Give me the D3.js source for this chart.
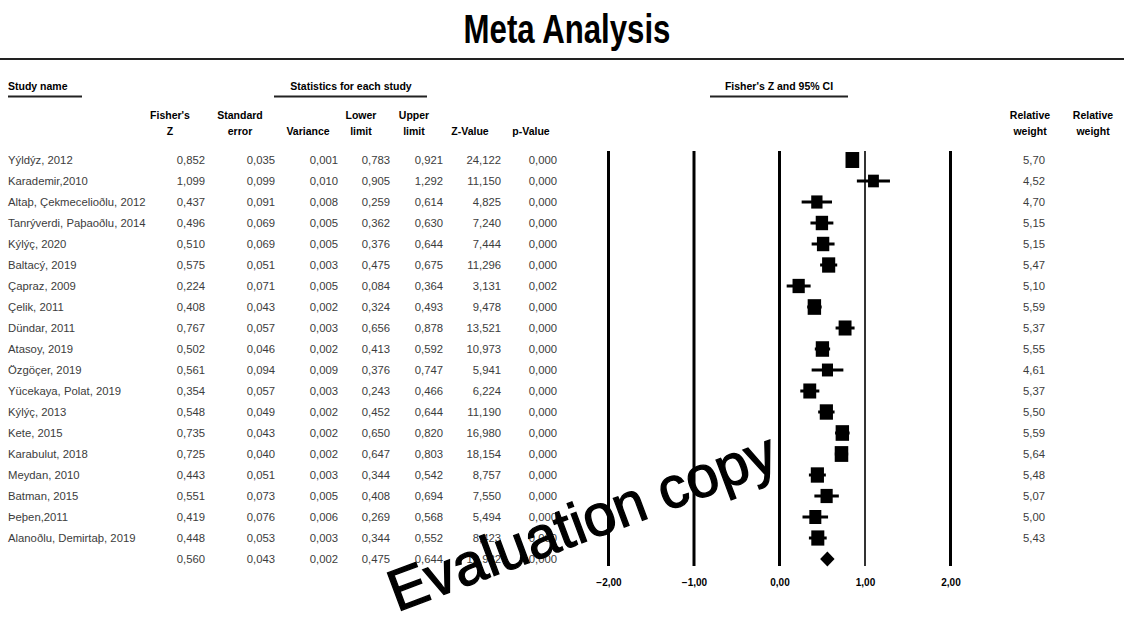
<!DOCTYPE html>
<html>
<head>
<meta charset="utf-8">
<script src="https://cdn.jsdelivr.net/npm/d3@7"></script>
<style>
  body { margin: 0; background: #fff; }
  svg { display: block; font-family: "Liberation Sans", Arial, sans-serif; }
</style>
</head>
<body>
<div id="chart"></div>
<script>
let width = 1124;
let height = 617;

// study data
const studies = [
  "Yýldýz, 2012", "Karademir,2010", "Altaþ, Çekmecelioðlu, 2012", "Tanrýverdi, Paþaoðlu, 2014",
  "Kýlýç, 2020", "Baltacý, 2019", "Çapraz, 2009", "Çelik, 2011", "Dündar, 2011", "Atasoy, 2019",
  "Özgöçer, 2019", "Yücekaya, Polat, 2019", "Kýlýç, 2013", "Kete, 2015", "Karabulut, 2018",
  "Meydan, 2010", "Batman, 2015", "Þeþen,2011", "Alanoðlu, Demirtaþ, 2019"
];
const fisherZ = [0.852, 1.099, 0.437, 0.496, 0.510, 0.575, 0.224, 0.408, 0.767, 0.502, 0.561, 0.354, 0.548, 0.735, 0.725, 0.443, 0.551, 0.419, 0.448];
const stdError = [0.035, 0.099, 0.091, 0.069, 0.069, 0.051, 0.071, 0.043, 0.057, 0.046, 0.094, 0.057, 0.049, 0.043, 0.040, 0.051, 0.073, 0.076, 0.053];
const variance = [0.001, 0.010, 0.008, 0.005, 0.005, 0.003, 0.005, 0.002, 0.003, 0.002, 0.009, 0.003, 0.002, 0.002, 0.002, 0.003, 0.005, 0.006, 0.003];
const lowerLimit = [0.783, 0.905, 0.259, 0.362, 0.376, 0.475, 0.084, 0.324, 0.656, 0.413, 0.376, 0.243, 0.452, 0.650, 0.647, 0.344, 0.408, 0.269, 0.344];
const upperLimit = [0.921, 1.292, 0.614, 0.630, 0.644, 0.675, 0.364, 0.493, 0.878, 0.592, 0.747, 0.466, 0.644, 0.820, 0.803, 0.542, 0.694, 0.568, 0.552];
const zValue = [24.122, 11.150, 4.825, 7.240, 7.444, 11.296, 3.131, 9.478, 13.521, 10.973, 5.941, 6.224, 11.190, 16.980, 18.154, 8.757, 7.550, 5.494, 8.423];
const pValue = [0.000, 0.000, 0.000, 0.000, 0.000, 0.000, 0.002, 0.000, 0.000, 0.000, 0.000, 0.000, 0.000, 0.000, 0.000, 0.000, 0.000, 0.000, 0.000];
const relWeight = [5.70, 4.52, 4.70, 5.15, 5.15, 5.47, 5.10, 5.59, 5.37, 5.55, 4.61, 5.37, 5.50, 5.59, 5.64, 5.48, 5.07, 5.00, 5.43];

// pooled (summary) row
const pooled = { z: 0.560, se: 0.043, v: 0.002, lo: 0.475, hi: 0.644, zv: 12.932, p: 0.000 };

const axisTicks = [-2, -1, 0, 1, 2];

const locale = d3.formatLocale({ decimal: ",", thousands: ".", grouping: [3], currency: ["", ""] });
const f3 = locale.format(".3f");
const f2 = locale.format(".2f");

const svg = d3.select("#chart").append("svg")
  .attr("width", width)
  .attr("height", height);

// title + rule (condensed bold)
svg.append("text")
  .attr("transform", "translate(567,43) scale(0.78,1)")
  .attr("text-anchor", "middle")
  .attr("font-weight", "bold")
  .attr("font-size", 40)
  .text("Meta Analysis");

svg.append("line")
  .attr("x1", 0).attr("x2", width)
  .attr("y1", 59).attr("y2", 59)
  .attr("stroke", "#222").attr("stroke-width", 2);

// section headers
const sections = [
  { label: "Study name", x: 8, anchor: "start", x1: 8, x2: 82 },
  { label: "Statistics for each study", x: 351, anchor: "middle", x1: 274, x2: 427 },
  { label: "Fisher's Z and 95% CI", x: 779, anchor: "middle", x1: 710, x2: 848 }
];
sections.forEach((s) => {
  svg.append("text")
    .attr("x", s.x).attr("y", 90)
    .attr("text-anchor", s.anchor)
    .attr("font-size", 10.5)
    .attr("font-weight", "bold")
    .text(s.label);
  svg.append("line")
    .attr("x1", s.x1).attr("x2", s.x2)
    .attr("y1", 96.5).attr("y2", 96.5)
    .attr("stroke", "#222").attr("stroke-width", 2);
});

// column definitions
const columns = [
  { head: ["Fisher's", "Z"], hx: 170, rx: 205, vals: fisherZ, pv: pooled.z, fmt: f3 },
  { head: ["Standard", "error"], hx: 240, rx: 275, vals: stdError, pv: pooled.se, fmt: f3 },
  { head: ["", "Variance"], hx: 308, rx: 338, vals: variance, pv: pooled.v, fmt: f3 },
  { head: ["Lower", "limit"], hx: 361, rx: 390, vals: lowerLimit, pv: pooled.lo, fmt: f3 },
  { head: ["Upper", "limit"], hx: 414, rx: 443, vals: upperLimit, pv: pooled.hi, fmt: f3 },
  { head: ["", "Z-Value"], hx: 470, rx: 501, vals: zValue, pv: pooled.zv, fmt: f3 },
  { head: ["", "p-Value"], hx: 531, rx: 557, vals: pValue, pv: pooled.p, fmt: f3 }
];

const rowIdx = d3.range(studies.length + 1);
const yScale = d3.scalePoint()
  .domain(rowIdx)
  .range([160, 559]);

const xScale = d3.scaleLinear()
  .domain([-2, 2])
  .range([608.5, 950.5]);

const textColor = "#3c3c3c";

columns.forEach((c) => {
  c.head.forEach((h, i) => {
    svg.append("text")
      .attr("x", c.hx).attr("y", 119 + i * 16)
      .attr("text-anchor", "middle")
      .attr("font-size", 10.5)
      .attr("font-weight", "bold")
      .text(h);
  });
  svg.append("g").selectAll("text")
    .data(c.vals.concat([c.pv]))
    .enter()
    .append("text")
    .attr("x", c.rx)
    .attr("y", (d, i) => yScale(i))
    .attr("dy", "0.35em")
    .attr("text-anchor", "end")
    .attr("font-size", 11.3)
    .attr("fill", textColor)
    .text((d) => c.fmt(d));
});

// study names
svg.append("g").selectAll("text")
  .data(studies)
  .enter()
  .append("text")
  .attr("x", 8)
  .attr("y", (d, i) => yScale(i))
  .attr("dy", "0.35em")
  .attr("font-size", 11.3)
  .attr("fill", textColor)
  .text((d) => d);

// relative weight headers + values
[1030, 1093].forEach((x) => {
  ["Relative", "weight"].forEach((h, i) => {
    svg.append("text")
      .attr("x", x).attr("y", 119 + i * 16)
      .attr("text-anchor", "middle")
      .attr("font-size", 10.5)
      .attr("font-weight", "bold")
      .text(h);
  });
});
svg.append("g").selectAll("text")
  .data(relWeight)
  .enter()
  .append("text")
  .attr("x", 1045)
  .attr("y", (d, i) => yScale(i))
  .attr("dy", "0.35em")
  .attr("text-anchor", "end")
  .attr("font-size", 11.3)
  .attr("fill", textColor)
  .text((d) => f2(d));

// forest plot reference lines
svg.append("g").selectAll("line")
  .data(axisTicks)
  .enter()
  .append("line")
  .attr("x1", (d) => xScale(d))
  .attr("x2", (d) => xScale(d))
  .attr("y1", 151)
  .attr("y2", 566)
  .attr("stroke", (d) => (d === 1 ? "#333" : "#000"))
  .attr("stroke-width", (d) => (d === 1 ? 2 : 3));

// axis labels
const xAxis = d3.axisBottom(xScale)
  .tickValues(axisTicks)
  .tickSize(0)
  .tickFormat(f2);
const axisG = svg.append("g")
  .attr("transform", "translate(0,576)")
  .call(xAxis);
axisG.select(".domain").remove();
axisG.selectAll("text")
  .attr("font-size", 10)
  .attr("font-weight", "bold")
  .attr("font-family", "'Liberation Sans', Arial, sans-serif")
  .attr("fill", "#000");

// CI lines
svg.append("g").selectAll("line")
  .data(studies)
  .enter()
  .append("line")
  .attr("x1", (d, i) => xScale(lowerLimit[i]))
  .attr("x2", (d, i) => xScale(upperLimit[i]))
  .attr("y1", (d, i) => yScale(i))
  .attr("y2", (d, i) => yScale(i))
  .attr("stroke", "#000")
  .attr("stroke-width", 3);

// weight squares
svg.append("g").selectAll("rect")
  .data(studies)
  .enter()
  .append("rect")
  .attr("x", (d, i) => xScale(fisherZ[i]) - relWeight[i] * 1.2)
  .attr("y", (d, i) => yScale(i) - relWeight[i] * 1.4)
  .attr("width", (d, i) => relWeight[i] * 2.4)
  .attr("height", (d, i) => relWeight[i] * 2.8)
  .attr("fill", "#000");

// pooled diamond
const py = yScale(studies.length);
svg.append("path")
  .attr("d", `M${xScale(pooled.lo)},${py} L${xScale(pooled.z)},${py - 7.5} L${xScale(pooled.hi)},${py} L${xScale(pooled.z)},${py + 7.5} Z`)
  .attr("fill", "#000");

// watermark
svg.append("text")
  .attr("transform", "translate(397,612) rotate(-20.5)")
  .attr("font-size", 58)
  .attr("fill", "#000")
  .attr("stroke", "#000")
  .attr("stroke-width", 1.3)
  .text("Evaluation copy");
</script>
</body>
</html>
